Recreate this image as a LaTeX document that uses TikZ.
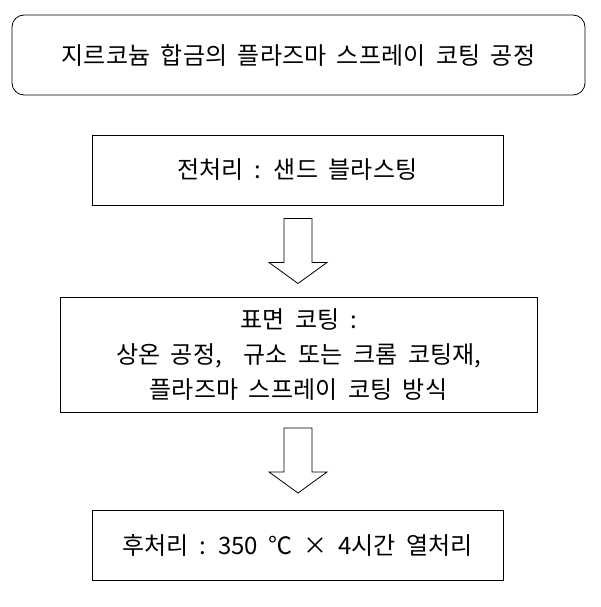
\documentclass[tikz,border=0pt]{standalone}
\usepackage{fontspec}
\setmainfont{Noto Sans CJK KR}[WordSpace=2]
\tikzset{
 box/.style={draw,line width=0.8pt,inner sep=0pt,align=center,font=\fontsize{24}{35}\selectfont},
 harrow/.style={draw,line width=0.8pt,line join=miter}
}
\newcommand{\hollowarrow}[1]{\draw[harrow] ($(#1)+(-14,-32)$) -- ++(28,0) -- ++(0,44) -- ++(15,0) -- ($(#1)+(0,33)$) -- ($(#1)+(-29,12)$) -- ++(15,0) -- cycle;}
\usetikzlibrary{calc}
\begin{document}
\begin{tikzpicture}[x=1pt,y=-1pt]
\useasboundingbox (0,0) rectangle (600,607);
\node[box,rounded corners=12pt,minimum width=573pt,minimum height=80pt] (a) at (298.5,55) {지르코늄 합금의 플라즈마 스프레이 코팅 공정};
\node[box,minimum width=411pt,minimum height=70pt] (b) at (297.5,170) {전처리 : 샌드 블라스팅};
\node[box,minimum width=477pt,minimum height=115pt] (c) at (298.5,354.5) {표면 코팅 :\\상온 공정,\ \ 규소 또는 크롬 코팅재,\\플라즈마 스프레이 코팅 방식};
\node[box,minimum width=411pt,minimum height=70pt] (d) at (297.5,545) {후처리 : 350 ℃ × 4시간 열처리};
\coordinate (ar1) at (298,250.5);
\coordinate (ar2) at (298,460);
\hollowarrow{ar1}
\hollowarrow{ar2}
\end{tikzpicture}
\end{document}
